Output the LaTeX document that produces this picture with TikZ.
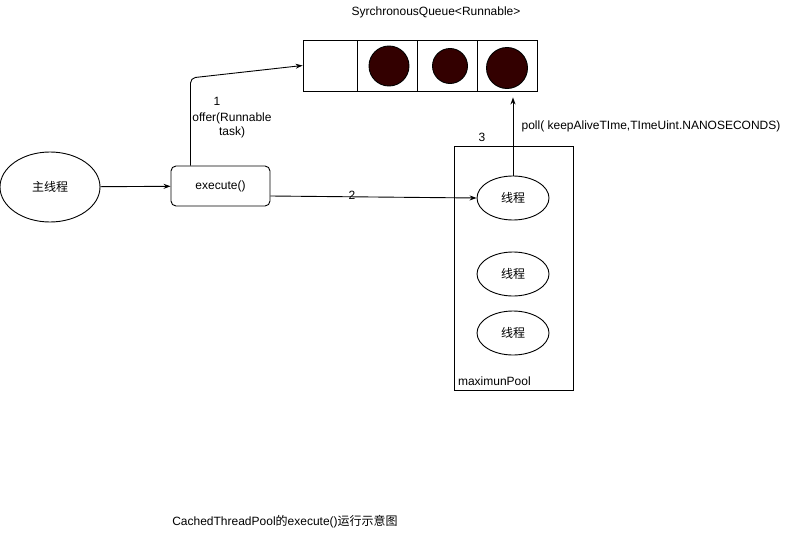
\documentclass[tikz,border=0pt]{standalone}
\usepackage{fontspec}
\setmainfont{Liberation Sans}
\newfontfamily\cjk{Noto Sans CJK SC}
\usetikzlibrary{arrows.meta,shapes.geometric}

\tikzset{
    thread/.style={draw, ellipse, inner sep=0pt, minimum width=72pt, minimum height=44pt},
    cell/.style={draw, rectangle, inner sep=0pt, minimum width=60pt, minimum height=51pt},
    task/.style={circle, fill=red!20!black, draw=black, inner sep=0pt},
    flow/.style={draw, -{Stealth[length=7pt,width=5pt]}},
    lbl/.style={inner sep=0pt, align=center}
}

\begin{document}
\begin{tikzpicture}[x=1pt, y=-1pt, line width=0.9pt, font=\fontsize{12}{14}\selectfont]
    \useasboundingbox (0,0) rectangle (791,551);

    % main thread and execute()
    \node[draw, ellipse, inner sep=0pt, minimum width=100pt, minimum height=70pt] (main) at (50,187) {\cjk 主线程};
    \node[draw, rectangle, rounded corners=5pt, inner sep=0pt, minimum width=99pt, minimum height=40pt] (exec) at (220.5,186) {execute()};

    % queue
    \node[cell, minimum width=54pt] (cell0) at (330,65.5) {};
    \node[cell] (cell1) at (387,65.5) {};
    \node[cell] (cell2) at (447,65.5) {};
    \node[cell] (cell3) at (507,65.5) {};
    \node[task, minimum size=40pt] (job1) at (389,66) {};
    \node[task, minimum size=35pt] (job2) at (450,66) {};
    \node[task, minimum size=41pt] (job3) at (507,68) {};
    \node[lbl] (qname) at (436,12) {SyrchronousQueue<Runnable>};

    % pool
    \node[draw, rectangle, inner sep=0pt, minimum width=119pt, minimum height=244pt] (pool) at (513.5,268) {};
    \node[lbl, anchor=south west] (poolname) at ([xshift=4pt,yshift=4pt]pool.south west) {maximunPool};
    \node[lbl] (step3) at (482,137) {3};
    \node[thread] (th1) at (513,198) {\cjk 线程};
    \node[thread] (th2) at (513,274) {\cjk 线程};
    \node[thread] (th3) at (513,333) {\cjk 线程};

    % connectors
    \draw[flow] (main) -- (exec);
    \draw[flow, rounded corners=5pt] ([xshift=-30pt]exec.north) -- ([xshift=-30pt]exec.north |- 0,78) -- (cell0.west);
    \node[lbl] (step1) at (217,101) {1};
    \node[lbl] (offer) at (232,125) {offer(Runnable\\task)};
    \draw[flow] ([yshift=-10pt]exec.east) -- (th1.west);
    \node[lbl] (step2) at (352,195) {2};
    \draw[flow, shorten >=6pt] (th1.north) -- (th1.north |- cell3.south);
    \node[lbl] (poll) at (651,126) {poll( keepAliveTIme,TImeUint.NANOSECONDS)};

    \node[lbl] (caption) at (285,522) {CachedThreadPool{\cjk 的}execute(){\cjk 运行示意图}};
\end{tikzpicture}
\end{document}
